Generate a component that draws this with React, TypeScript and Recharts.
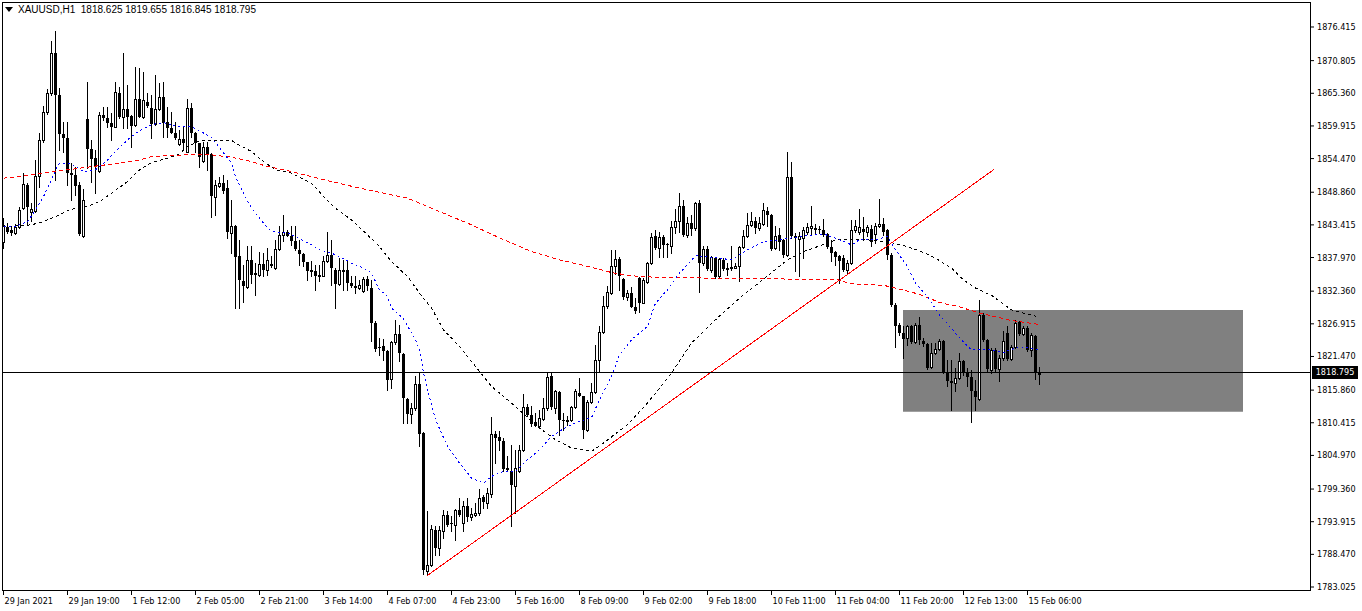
import React from 'react';
import { ComposedChart, Bar, Line, XAxis, YAxis, ReferenceLine, ReferenceArea } from 'recharts';

const OPEN = [
1840.64,1843.14,1842.48,1842.03,1843.14,1846.20,1850.09,1845.48,1845.81,1851.64,
1857.59,1862.20,1865.36,1872.03,1865.09,1858.53,1857.98,1852.14,1851.75,1850.09,
1841.59,1861.09,1856.03,1854.53,1852.36,1861.75,1861.20,1860.36,1859.81,1865.36,
1861.48,1862.70,1861.59,1860.09,1864.36,1861.48,1863.98,1862.90,1860.25,1862.70,
1864.81,1860.64,1859.64,1858.81,1856.92,1857.81,1855.64,1862.86,1858.81,1857.03,
1854.14,1856.48,1855.25,1848.14,1849.92,1850.36,1849.53,1842.03,1843.26,1838.26,
1834.09,1833.03,1837.59,1835.37,1835.09,1836.92,1835.92,1836.92,1836.20,1839.37,
1841.76,1842.31,1841.59,1840.65,1839.26,1838.59,1837.15,1835.81,1835.65,1834.98,
1834.92,1837.31,1838.42,1835.81,1833.59,1835.65,1835.81,1833.70,1833.26,1832.87,
1832.31,1834.37,1832.86,1827.03,1823.03,1823.25,1822.42,1817.69,1823.81,1825.25,
1821.92,1814.42,1811.86,1812.86,1816.92,1808.69,1785.64,1786.75,1792.58,1789.53,
1792.31,1795.08,1793.69,1793.42,1795.92,1793.69,1796.58,1794.69,1795.08,1795.36,
1798.03,1797.03,1798.58,1808.53,1807.97,1807.42,1802.86,1802.42,1799.81,1802.31,
1805.92,1812.97,1811.75,1810.47,1809.81,1811.03,1812.86,1818.14,1812.86,1815.53,
1810.81,1810.75,1810.81,1813.03,1815.36,1814.81,1809.25,1813.86,1815.53,1820.81,
1825.48,1829.81,1832.03,1836.64,1837.75,1834.42,1831.42,1832.09,1829.75,1834.50,
1830.42,1833.92,1837.09,1841.48,1839.64,1841.36,1840.20,1839.81,1843.03,1844.14,
1846.59,1841.75,1843.81,1842.86,1847.14,1837.03,1839.36,1835.81,1837.86,1834.81,
1837.59,1836.20,1836.36,1836.20,1836.59,1839.70,1841.48,1843.42,1843.98,1842.86,
1843.59,1845.75,1845.09,1839.53,1841.75,1840.92,1838.42,1851.48,1841.48,1841.03,
1841.20,1842.15,1842.87,1842.87,1842.70,1842.59,1841.92,1839.70,1838.81,1838.15,
1837.87,1835.81,1837.03,1842.48,1842.31,1842.70,1842.20,1842.70,1841.92,1843.26,
1843.59,1842.48,1838.42,1830.08,1826.75,1825.36,1824.53,1826.47,1823.86,1826.75,
1824.08,1823.58,1819.69,1822.03,1822.75,1824.08,1818.81,1817.31,1817.03,1817.86,
1820.75,1818.81,1817.97,1815.64,1814.36,1828.42,1824.14,1819.25,1822.47,1819.36,
1821.19,1825.36,1821.08,1822.97,1827.14,1825.25,1826.19,1822.60,1824.92,1818.625
];

const HIGH = [
1844.53,1843.81,1843.14,1843.59,1846.48,1852.03,1850.48,1847.03,1854.25,1858.70,
1863.25,1866.03,1874.14,1875.75,1866.20,1860.64,1860.64,1853.70,1853.14,1850.64,
1849.36,1867.31,1857.59,1855.92,1862.31,1863.14,1863.03,1862.03,1867.31,1866.48,
1872.03,1866.75,1861.75,1869.81,1869.53,1868.98,1865.36,1865.09,1868.42,1867.03,
1867.31,1863.03,1862.31,1860.64,1859.25,1859.81,1864.36,1863.70,1858.98,1857.14,
1857.31,1857.31,1855.36,1850.92,1851.48,1851.75,1850.92,1847.59,1843.40,1840.92,
1836.76,1839.92,1839.92,1837.03,1838.81,1838.70,1839.53,1838.15,1840.92,1843.15,
1845.09,1842.59,1843.15,1843.15,1840.92,1838.70,1837.20,1837.31,1836.76,1836.76,
1838.15,1842.31,1840.92,1836.20,1837.87,1837.59,1837.31,1834.81,1834.81,1834.26,
1834.70,1834.81,1834.14,1827.31,1824.53,1824.36,1822.60,1823.97,1827.47,1826.75,
1822.00,1814.50,1813.69,1818.14,1818.69,1808.80,1795.75,1793.42,1793.14,1793.14,
1795.92,1795.64,1794.81,1796.00,1797.86,1797.31,1797.86,1796.19,1797.03,1799.36,
1798.42,1799.53,1811.36,1808.97,1808.97,1807.86,1804.81,1806.75,1805.92,1806.75,
1815.19,1813.53,1813.25,1812.03,1812.58,1814.53,1818.81,1818.81,1815.92,1815.64,
1812.03,1811.58,1813.14,1816.03,1817.86,1814.92,1814.25,1817.03,1823.42,1826.48,
1831.48,1833.25,1839.25,1839.25,1838.09,1834.59,1832.59,1833.09,1831.25,1834.75,
1834.50,1837.25,1842.09,1842.59,1842.31,1841.75,1840.36,1843.98,1846.03,1848.70,
1847.59,1844.81,1845.09,1847.31,1847.59,1839.81,1839.81,1838.25,1838.14,1837.86,
1837.86,1837.03,1839.81,1837.03,1839.81,1842.59,1845.36,1845.48,1844.81,1844.81,
1847.03,1846.48,1845.20,1843.25,1842.86,1841.00,1855.65,1853.98,1842.03,1842.31,
1843.03,1843.81,1846.59,1843.59,1843.15,1844.37,1842.03,1840.92,1839.00,1838.42,
1838.42,1837.59,1844.26,1844.15,1846.03,1844.81,1843.42,1843.42,1843.81,1847.70,
1844.53,1842.70,1838.70,1830.36,1827.03,1826.47,1826.75,1826.75,1827.03,1828.03,
1824.53,1823.70,1823.69,1823.69,1824.36,1824.14,1820.92,1820.92,1819.53,1822.03,
1820.92,1819.53,1819.25,1817.58,1830.92,1828.69,1824.36,1822.86,1822.86,1821.75,
1825.64,1826.47,1823.42,1827.58,1827.31,1826.47,1826.47,1825.36,1825.08,1819.655
];

const LOW = [
1839.53,1842.03,1841.75,1841.92,1842.86,1846.03,1843.42,1843.98,1845.59,1849.81,
1857.31,1861.92,1865.09,1850.92,1855.92,1855.64,1850.09,1847.59,1848.42,1841.75,
1841.36,1852.86,1850.64,1848.70,1852.25,1860.92,1859.81,1857.59,1859.70,1861.20,
1859.53,1859.53,1856.36,1859.92,1861.36,1861.20,1863.03,1857.86,1860.09,1862.59,
1858.14,1858.14,1858.70,1857.70,1856.75,1855.92,1855.50,1858.14,1855.64,1853.14,
1853.98,1852.59,1844.81,1845.09,1849.81,1848.81,1841.20,1838.70,1829.53,1829.53,
1830.48,1832.87,1833.70,1831.76,1834.81,1834.92,1835.09,1836.37,1836.04,1839.26,
1840.65,1841.48,1840.09,1839.26,1836.76,1836.48,1834.26,1834.81,1832.48,1833.98,
1834.81,1837.15,1833.42,1829.53,1833.42,1832.48,1832.48,1833.03,1832.03,1832.70,
1832.15,1832.48,1823.97,1822.31,1821.75,1820.92,1815.81,1816.19,1823.58,1820.64,
1810.36,1810.36,1810.36,1812.58,1806.47,1785.25,1785.08,1786.58,1788.42,1788.42,
1791.19,1793.14,1792.31,1790.92,1794.81,1792.31,1793.97,1794.25,1794.81,1795.08,
1796.19,1796.19,1798.03,1803.69,1805.92,1802.31,1802.31,1793.25,1795.36,1802.14,
1805.64,1811.47,1809.92,1809.81,1809.53,1810.92,1812.58,1812.69,1812.03,1808.42,
1809.25,1810.08,1810.64,1812.86,1814.81,1807.86,1808.97,1813.70,1815.36,1818.98,
1825.37,1829.53,1831.92,1835.25,1832.59,1831.09,1830.92,1829.70,1828.80,1828.92,
1830.34,1833.75,1836.92,1839.36,1838.14,1838.14,1838.03,1838.70,1842.03,1842.31,
1841.59,1841.36,1841.75,1842.59,1832.14,1836.75,1835.81,1835.64,1834.53,1834.53,
1835.92,1835.09,1835.92,1836.17,1833.98,1839.53,1841.36,1843.25,1842.03,1842.59,
1843.42,1843.25,1839.25,1839.36,1839.25,1838.14,1838.15,1841.20,1835.65,1834.81,
1837.87,1841.92,1841.76,1842.03,1842.03,1841.48,1839.53,1837.31,1836.76,1833.70,
1835.65,1835.37,1836.92,1842.31,1841.92,1840.92,1841.48,1839.81,1840.37,1843.03,
1841.76,1837.70,1829.81,1823.03,1825.08,1821.19,1823.42,1823.69,1823.69,1823.58,
1823.14,1819.36,1819.53,1821.92,1822.58,1818.69,1816.47,1812.58,1815.64,1817.70,
1818.42,1816.47,1810.47,1812.47,1814.14,1823.97,1818.97,1818.69,1818.97,1817.31,
1820.92,1820.92,1820.92,1822.86,1825.08,1825.08,1822.30,1821.47,1817.69,1816.845
];

const CLOSE = [
1843.42,1842.31,1842.03,1843.14,1845.92,1850.25,1846.36,1846.03,1851.64,1857.59,
1862.20,1865.36,1872.03,1865.09,1858.53,1857.86,1852.14,1851.75,1849.98,1841.86,
1847.59,1856.03,1854.36,1853.03,1861.75,1861.20,1860.36,1859.81,1865.53,1861.48,
1862.70,1861.48,1859.92,1864.36,1861.48,1864.25,1863.25,1860.25,1862.70,1864.81,
1860.48,1859.53,1858.81,1857.86,1857.70,1857.14,1862.86,1858.81,1857.03,1854.81,
1856.48,1855.25,1848.25,1850.09,1850.48,1849.14,1842.31,1843.26,1837.98,1834.26,
1833.15,1837.59,1835.09,1835.09,1836.92,1835.81,1837.59,1836.48,1839.37,1841.76,
1842.31,1841.59,1840.65,1839.37,1838.59,1837.15,1835.65,1835.53,1834.81,1834.70,
1837.31,1838.42,1836.20,1833.59,1835.81,1835.92,1833.70,1833.15,1832.87,1833.42,
1834.37,1833.20,1827.03,1822.75,1822.90,1822.31,1817.58,1823.81,1825.25,1822.03,
1814.53,1811.92,1812.86,1816.86,1808.53,1785.81,1786.75,1792.69,1789.53,1792.58,
1795.08,1793.42,1793.53,1795.92,1795.08,1796.58,1794.69,1795.19,1795.36,1797.86,
1797.14,1798.69,1808.53,1807.86,1807.31,1802.69,1802.47,1799.97,1802.86,1805.92,
1812.97,1811.75,1810.25,1809.92,1811.19,1812.86,1818.03,1813.03,1815.75,1810.81,
1810.70,1810.81,1813.03,1815.64,1814.92,1809.25,1813.81,1815.53,1820.92,1825.48,
1829.92,1832.14,1836.64,1837.70,1834.92,1831.42,1832.09,1829.80,1829.09,1830.47,
1834.25,1837.09,1841.47,1839.53,1841.36,1840.09,1839.98,1843.03,1844.14,1846.59,
1841.75,1843.70,1842.75,1847.14,1837.03,1839.36,1836.03,1838.14,1834.70,1837.70,
1836.03,1835.92,1836.03,1836.59,1839.70,1841.48,1843.42,1843.98,1842.86,1843.70,
1845.92,1845.09,1839.36,1841.59,1840.64,1838.42,1851.48,1841.48,1841.20,1841.48,
1842.48,1843.03,1843.26,1842.48,1842.48,1841.76,1839.70,1838.70,1838.03,1837.31,
1835.81,1837.03,1842.59,1843.15,1843.03,1842.15,1843.03,1840.48,1843.26,1843.59,
1842.31,1838.42,1830.08,1826.47,1825.36,1824.36,1826.47,1823.86,1826.64,1824.14,
1823.53,1819.53,1822.03,1822.75,1824.08,1818.81,1817.42,1817.03,1817.86,1820.64,
1818.69,1817.97,1815.64,1814.69,1828.42,1824.25,1819.36,1822.58,1819.36,1821.19,
1823.97,1821.08,1822.97,1827.03,1825.25,1826.19,1822.60,1825.08,1818.69,1818.795
];

// moving averages: [bar index, price]
const MA_FAST: [number, number][] = [
[0,1843.14],[3,1843.14],[6,1843.97],[8,1845.92],[10,1848.14],[12,1850.92],[13,1852.59],[14,1853.70],
[17,1853.59],[18,1853.14],[20,1852.30],[23,1852.59],[26,1854.25],[28,1855.64],[31,1857.59],[33,1858.70],
[36,1859.80],[38,1860.25],[40,1860.47],[43,1859.92],[47,1859.80],[49,1859.09],[52,1858.00],[54,1856.25],
[57,1853.70],[58,1851.47],[60,1848.70],[62,1846.20],[65,1843.70],[67,1842.30],[71,1842.04],[73,1841.47],
[77,1840.09],[79,1839.25],[82,1838.70],[84,1838.14],[87,1837.04],[90,1836.20],[92,1835.37],[93,1833.97],
[94,1832.59],[96,1831.47],[97,1829.54],[100,1827.75],[103,1824.25],[104,1822.59],[105,1818.70],[106,1815.92],
[108,1810.92],[111,1806.47],[114,1803.70],[117,1801.20],[120,1800.37],[122,1801.47],[125,1802.30],[128,1802.30],
[131,1804.25],[134,1805.92],[137,1808.14],[140,1809.42],[143,1810.42],[147,1811.25],[149,1814.25],[152,1818.14],
[154,1821.75],[157,1824.25],[161,1826.47],[163,1830.37],[166,1832.59],[169,1835.37],[173,1838.25],[177,1838.04],
[182,1837.59],[186,1839.25],[190,1840.64],[194,1840.92],[199,1841.47],[205,1841.92],[209,1840.92],[212,1840.09],
[214,1840.92],[218,1840.92],[221,1841.47],[223,1839.25],[226,1836.47],[228,1833.70],[231,1831.47],[234,1828.42],
[239,1824.59],[242,1822.54],[246,1822.70],[250,1822.14],[254,1823.14],[259,1822.50]
];

const MA_MID: [number, number][] = [
[0,1843.14],[7,1843.42],[10,1843.97],[13,1844.80],[16,1845.80],[18,1846.20],[21,1846.47],[24,1847.30],
[27,1848.70],[31,1850.64],[34,1852.59],[37,1853.80],[41,1854.54],[44,1855.25],[46,1856.47],[49,1857.42],
[51,1857.54],[57,1857.54],[58,1857.04],[62,1855.64],[65,1853.97],[68,1852.59],[72,1852.04],[77,1850.37],
[80,1848.14],[83,1846.20],[87,1844.25],[91,1841.75],[94,1839.80],[97,1837.30],[101,1834.80],[104,1832.04],
[107,1829.54],[110,1825.92],[114,1823.14],[118,1819.80],[122,1816.47],[127,1813.70],[130,1811.92],[134,1809.54],
[138,1807.59],[142,1806.20],[147,1805.64],[150,1807.04],[156,1810.09],[161,1813.70],[167,1818.70],[172,1823.70],
[178,1827.59],[184,1831.20],[189,1833.84],[196,1837.59],[200,1838.97],[206,1840.37],[208,1840.92],[216,1840.92],
[222,1840.47],[226,1839.80],[230,1838.80],[233,1837.87],[237,1836.20],[240,1834.25],[243,1832.87],[247,1831.67],
[252,1829.25],[259,1828.00]
];

const MA_SLOW: [number, number][] = [
[0,1851.20],[7,1851.75],[12,1852.30],[16,1852.59],[24,1853.30],[29,1853.70],[34,1854.25],[37,1854.80],
[41,1854.97],[46,1855.09],[51,1855.17],[57,1854.70],[62,1853.97],[66,1853.14],[71,1852.47],[77,1851.47],
[82,1850.64],[88,1849.70],[95,1848.70],[101,1847.87],[107,1846.20],[117,1843.42],[124,1841.25],[132,1838.97],
[139,1837.59],[147,1836.34],[152,1835.47],[157,1834.92],[164,1834.64],[177,1834.54],[189,1834.54],[196,1834.37],
[208,1834.37],[212,1833.59],[220,1833.34],[224,1832.70],[229,1831.84],[234,1830.47],[239,1829.75],[244,1828.70],
[252,1827.47],[259,1826.80]
];

const X_TICK_BARS = [0,16,32,48,64,80,96,112,128,144,160,176,192,208,224,240,256];
const X_TICK_LABELS = [
'29 Jan 2021','29 Jan 19:00','1 Feb 12:00','2 Feb 05:00','2 Feb 21:00','3 Feb 14:00',
'4 Feb 07:00','4 Feb 23:00','5 Feb 16:00','8 Feb 09:00','9 Feb 02:00','9 Feb 18:00',
'10 Feb 11:00','11 Feb 04:00','11 Feb 20:00','12 Feb 13:00','15 Feb 06:00'
];
const PRICE_TICKS = [
1876.415,1870.805,1865.360,1859.915,1854.470,1848.860,1843.415,1837.970,1832.360,
1826.915,1821.470,1815.860,1810.415,1804.970,1799.360,1793.915,1788.470,1783.025
];
const TREND_START = { x: 105.8, y: 1784.86 };
const TREND_END = { x: 247.6, y: 1852.65 };
const BOX = { x1: 224.875, x2: 309.875, y1: 1812.26, y2: 1829.22 };
const LAST_PRICE = 1818.795;
const HEADER = 'XAUUSD,H1  1818.625 1819.655 1816.845 1818.795';

const X_DOMAIN: [number, number] = [-0.375, 326.625];
const Y_DOMAIN: [number, number] = [1782.525, 1880.584];

const AXIS_FONT = "'DejaVu Sans Condensed', 'Liberation Sans', Arial, sans-serif";

const toMap = (arr: [number, number][]) => {
  const m: Record<number, number> = {};
  arr.forEach(([i, v]) => { m[i] = v; });
  return m;
};
const fastMap = toMap(MA_FAST);
const midMap = toMap(MA_MID);
const slowMap = toMap(MA_SLOW);

const rows = OPEN.map((o, i) => ({
  i,
  o,
  h: HIGH[i],
  l: LOW[i],
  c: CLOSE[i],
  range: [LOW[i], HIGH[i]],
  fast: fastMap[i] ?? null,
  mid: midMap[i] ?? null,
  slow: slowMap[i] ?? null,
}));

function CandleShape(props: any) {
  const { x, y, width, height, payload } = props;
  if (!payload || x == null || y == null) return null;
  const { o, h, l, c } = payload;
  const top0 = Math.min(y, y + height);
  const hgt = Math.abs(height);
  const span = h - l;
  const py = (p: number) => (span > 0 ? top0 + ((h - p) / span) * hgt : top0);
  const cx = Math.round(x + width / 2 - 0.5) + 0.5;
  const yH = Math.round(py(h));
  const yL = Math.round(py(l));
  const yO = Math.round(py(o));
  const yC = Math.round(py(c));
  const top = Math.min(yO, yC);
  const bot = Math.max(yO, yC);
  const bull = c > o;
  return (
    <g>
      <line x1={cx} x2={cx} y1={yH} y2={yL + 1} stroke="#000" strokeWidth={1} shapeRendering="crispEdges" />
      {bull ? (
        <rect x={cx - 1} y={top + 0.5} width={2} height={Math.max(bot - top, 1)} fill="#fff" stroke="#000" strokeWidth={1} shapeRendering="crispEdges" />
      ) : (
        <rect x={cx - 1.5} y={top} width={3} height={Math.max(bot - top, 1)} fill="#000" shapeRendering="crispEdges" />
      )}
    </g>
  );
}

function XTick(props: any) {
  const { x, y, payload } = props;
  const idx = X_TICK_BARS.indexOf(payload.value);
  return (
    <text x={x + 1} y={y + 9} fontSize={9} fontFamily={AXIS_FONT} fill="#000" textAnchor="start">
      {X_TICK_LABELS[idx]}
    </text>
  );
}

function YTick(props: any) {
  const { x, y, payload } = props;
  return (
    <text x={x + 1} y={y + 3} fontSize={9} fontFamily={AXIS_FONT} fill="#000" textAnchor="start">
      {payload.value.toFixed(3)}
    </text>
  );
}

export default function App() {
  return (
    <div style={{ position: 'absolute', left: 0, top: 0, width: 1362, height: 611, background: '#fff', overflow: 'hidden' }}>
      <ComposedChart width={1362} height={611} data={rows} margin={{ top: 2, right: 0, bottom: 0, left: 2 }}>
        <XAxis
          dataKey="i"
          type="number"
          domain={X_DOMAIN}
          allowDataOverflow
          ticks={X_TICK_BARS}
          interval={0}
          height={21}
          tickSize={5}
          tickMargin={0}
          axisLine={false}
          tickLine={{ stroke: '#000' }}
          tick={<XTick />}
        />
        <YAxis
          orientation="right"
          type="number"
          domain={Y_DOMAIN}
          allowDataOverflow
          ticks={PRICE_TICKS}
          interval={0}
          width={52}
          tickSize={4}
          tickMargin={2}
          axisLine={false}
          tickLine={{ stroke: '#000' }}
          tick={<YTick />}
        />
        <ReferenceArea
          x1={BOX.x1}
          x2={BOX.x2}
          y1={BOX.y1}
          y2={BOX.y2}
          fill="#808080"
          fillOpacity={1}
          stroke="none"
          ifOverflow="visible"
          zIndex={-1}
        />
        <Bar dataKey="range" barSize={3} shape={<CandleShape />} isAnimationActive={false} />
        <Line dataKey="slow" type="linear" stroke="#ff0000" strokeWidth={1} strokeDasharray="4 3" shapeRendering="crispEdges" dot={false} connectNulls isAnimationActive={false} />
        <Line dataKey="mid" type="linear" stroke="#000000" strokeWidth={1} strokeDasharray="3 3" shapeRendering="crispEdges" dot={false} connectNulls isAnimationActive={false} />
        <Line dataKey="fast" type="linear" stroke="#0000ff" strokeWidth={1} strokeDasharray="2 3" shapeRendering="crispEdges" dot={false} connectNulls isAnimationActive={false} />
        <ReferenceLine segment={[TREND_START, TREND_END]} stroke="#ff0000" strokeWidth={1} shapeRendering="crispEdges" ifOverflow="visible" />
        <ReferenceLine y={LAST_PRICE} stroke="#000" strokeWidth={1} shapeRendering="crispEdges" />
      </ComposedChart>
      <div style={{ position: 'absolute', left: 2, top: 2, width: 1309, height: 589, border: '1px solid #000', boxSizing: 'border-box', pointerEvents: 'none' }} />
      <div style={{ position: 'absolute', left: 5, top: 3, display: 'flex', alignItems: 'center', fontFamily: "'Liberation Sans', Arial, sans-serif", fontSize: 10, color: '#000', whiteSpace: 'pre', lineHeight: '13px' }}>
        <svg width={9} height={6} style={{ marginRight: 4 }}><polygon points="0,0 8,0 4,5" fill="#000" /></svg>
        <span>{HEADER}</span>
      </div>
      <div style={{ position: 'absolute', left: 1312, top: 366, width: 46, height: 13, background: '#000', color: '#fff', fontFamily: AXIS_FONT, fontSize: 9, lineHeight: '13px', textAlign: 'center' }}>
        {LAST_PRICE.toFixed(3)}
      </div>
    </div>
  );
}
